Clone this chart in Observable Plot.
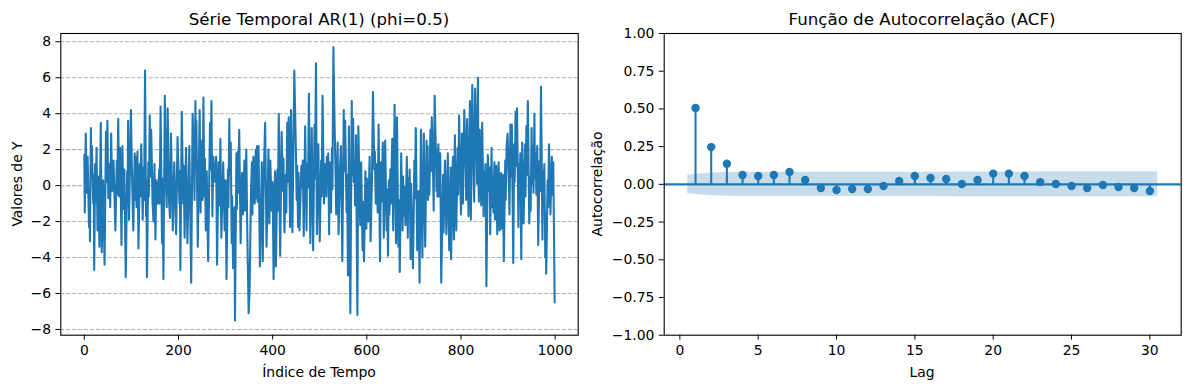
<!DOCTYPE html>
<html><head><meta charset="utf-8">
<script src="https://cdn.jsdelivr.net/npm/d3@7"></script>
<script src="https://cdn.jsdelivr.net/npm/@observablehq/plot@0.6"></script>
<style>
body{margin:0;background:#fff;}
#fig{position:relative;width:1189px;height:390px;overflow:hidden;background:#fff;}
#fig > div, #fig > svg{position:absolute;top:0;}
</style></head><body><div id="fig"></div>
<script>
// ---- Data: AR(1) series (index, value) ----
const tsPoints = [
[0,1.7],[1,-1.5],[3,2.9],[5,-0.4],[7,1.6],[10,-2.3],[11,-0.8],[12,-3.1],[14,3.2],[15,0.4],[16,2.2],[19,-1.0],[20,0.6],[21,-4.7],[23,1.2],[24,-0.9],[26,2.1],[28,-2.5],[30,0.5],[32,-3.4],[35,3.5],[37,-3.7],[40,0.3],[43,-4.4],[46,3.0],[47,0.2],[49,3.6],[51,-0.7],[53,1.2],[55,-1.2],[57,2.9],[59,-0.3],[62,1.4],[66,-2.5],[69,1.4],[70,-0.5],[72,3.7],[74,-0.6],[76,2.1],[79,-3.3],[81,2.2],[83,-1.3],[85,0.9],[88,-5.1],[91,0.8],[92,-0.9],[93,3.6],[95,-1.9],[99,4.2],[101,0.9],[104,-2.5],[107,1.8],[108,-0.8],[110,1.6],[111,-1.2],[113,1.9],[115,-3.5],[118,1.2],[119,-0.6],[121,2.3],[124,-1.9],[126,1.0],[127,-0.8],[129,6.4],[131,-1.7],[132,0.3],[133,-5.1],[136,1.3],[137,-0.6],[139,3.9],[140,0.5],[142,3.1],[145,-1.0],[147,-2.0],[149,1.2],[151,-3.0],[153,0.3],[156,-1.0],[159,0.9],[160,-1.0],[162,4.4],[165,-3.2],[166,0.4],[168,-5.2],[171,5.0],[173,0.9],[175,-1.2],[177,4.3],[180,-0.9],[182,-1.8],[184,2.9],[188,-2.5],[191,1.3],[195,-2.7],[198,2.7],[202,-1.0],[203,0.8],[204,-4.7],[207,4.1],[210,-1.0],[211,1.1],[213,-2.9],[216,2.1],[219,-3.2],[223,2.2],[227,-5.4],[230,4.0],[233,1.2],[234,-0.8],[236,4.7],[237,1.5],[238,3.6],[241,-3.4],[245,4.2],[247,-1.5],[248,2.5],[250,0.9],[251,-0.8],[253,4.9],[255,-0.6],[256,1.5],
[258,-2.5],[260,0.8],[263,-4.2],[267,3.5],[268,0.9],[270,4.7],[272,-1.7],[274,1.6],[276,0.7],[278,0.2],[280,1.6],[282,-4.4],[285,1.3],[287,-1.1],[289,2.6],[291,-2.9],[295,1.3],[298,-2.5],[300,0.3],[302,-5.2],[305,0.9],[306,-1.2],[308,3.7],[309,0.6],[311,2.4],[313,-3.2],[314,-0.6],[316,-4.6],[319,-1.2],[320,-7.5],[323,1.8],[324,-1.3],[326,1.9],[327,-0.4],[329,3.1],[332,-3.2],[335,0.7],[337,-1.6],[340,1.4],[341,-1.4],[343,0.3],[344,2.0],[346,-2.3],[349,-7.1],[351,-5.8],[354,-0.4],[356,1.3],[357,-1.6],[359,1.6],[362,-1.0],[364,2.0],[365,-0.7],[367,2.2],[368,-0.9],[370,2.2],[373,-4.5],[376,-0.4],[377,1.3],[379,-4.2],[381,0.3],[384,3.5],[387,-3.4],[390,0.3],[391,2.0],[393,-2.1],[395,1.4],[398,-1.4],[400,0.2],[402,-5.2],[405,0.8],[407,-4.5],[410,0.9],[411,-1.4],[413,4.0],[416,-3.9],[419,3.0],[422,-0.3],[423,1.5],[425,-2.6],[428,0.6],[429,-1.5],[431,3.5],[432,0.2],[434,3.8],[437,-2.3],[439,4.2],[442,-2.6],[446,6.4],[449,2.5],[451,-0.8],[452,1.1],[454,-2.3],[455,0.7],[457,-2.5],[461,1.1],[463,-0.1],[464,1.4],[466,-2.8],[469,3.3],[472,-2.5],[473,1.2],[475,-0.1],[477,5.1],[480,-3.2],[483,3.2],[486,-3.6],[489,3.4],[490,0.4],[492,6.8],
[494,-2.7],[497,2.3],[500,-3.1],[503,1.4],[504,-0.6],[506,5.0],[509,-1.0],[511,1.2],[514,-0.6],[515,1.6],[517,0.2],[518,1.8],[520,-2.7],[521,1.3],[523,0.0],[524,-1.5],[526,2.1],[527,-0.2],[529,7.7],[531,4.2],[534,0.1],[535,-1.6],[537,0.9],[538,2.4],[540,-2.7],[543,0.9],[545,2.2],[548,-4.2],[551,4.2],[552,0.8],[554,3.6],[557,-1.5],[558,0.6],[560,-5.0],[562,3.3],[565,-7.1],[568,4.7],[569,0.6],[571,3.7],[572,0.2],[574,1.0],[575,-1.1],[577,2.8],[580,-7.2],[582,3.3],[585,-1.0],[586,-2.2],[588,1.3],[591,-3.6],[592,-0.9],[594,-4.2],[596,-1.0],[597,0.8],[599,-2.4],[600,0.4],[602,-1.0],[603,-2.0],[605,0.5],[606,1.6],[608,-3.1],[611,0.4],[613,5.2],[616,0.9],[617,1.9],[619,-1.0],[620,1.2],[622,0.1],[623,-1.5],[625,3.4],[628,-4.2],[630,1.3],[631,-0.9],[633,1.2],[634,2.4],[636,-2.9],[639,2.5],[642,-2.5],[643,-0.2],[645,-3.9],[647,0.3],[648,-1.6],[650,0.9],[651,-1.0],[653,1.4],[654,2.6],[656,-2.5],[659,4.5],[662,-3.2],[664,3.8],[667,-3.4],[668,-0.8],[670,-4.8],[673,1.8],[676,-2.5],[677,0.5],[679,-1.7],[681,-0.1],[682,-2.2],[684,0.3],[685,1.6],[687,-2.9],[688,0.4],[690,-1.1],[691,0.9],[693,-4.1],[694,0.1],[696,-2.1],[698,-4.6],[701,1.4],[702,-0.7],[704,3.2],[707,-3.6],[710,-0.3],[712,-5.4],[715,3.1],[718,-4.0],[721,2.9],[724,-3.4],[727,2.5],[728,0.3],[729,2.2],[730,-0.8],[732,1.2],[733,-0.5],[735,3.1],[736,0.8],[738,3.8],[741,0.3],[742,-1.4],[744,5.0],[747,1.6],[748,-0.3],[749,2.0],[750,-0.6],[752,2.3],[753,-0.6],[755,0.7],[756,1.8],[758,-5.4],
[761,-1.0],[762,0.6],[763,-2.6],[766,1.4],[769,-2.7],[772,1.8],[775,-3.6],[778,1.0],[779,-4.1],[782,0.7],[783,1.6],[785,-3.0],[787,2.8],[790,-2.5],[793,2.1],[794,-0.5],[796,3.9],[799,-0.3],[800,-1.6],[802,2.9],[804,-1.0],[807,4.2],[810,0.9],[811,-0.8],[813,3.7],[816,-1.7],[819,4.7],[821,-1.9],[824,5.6],[827,0.3],[828,-0.9],[830,5.4],[833,1.8],[834,0.1],[836,6.0],[837,0.9],[838,-0.9],[840,3.1],[843,-1.1],[845,3.5],[848,-1.7],[849,0.8],[851,-0.1],[852,1.2],[854,-5.6],[857,1.7],[860,-0.3],[861,1.0],[862,-2.7],[865,2.1],[866,-1.2],[868,0.5],[869,-1.5],[871,1.3],[872,-1.9],[874,-0.4],[875,1.1],[877,-2.7],[879,-0.1],[880,1.3],[882,-2.5],[885,0.7],[886,-2.4],[888,-1.7],[889,0.6],[891,-4.2],[894,1.4],[895,-0.8],[897,2.2],[899,2.9],[902,-0.2],[903,-1.6],[905,3.4],[906,0.5],[908,3.4],[911,-4.3],[913,2.3],[914,0.2],[916,4.1],[917,1.1],[919,4.3],[922,-2.3],[923,1.2],[925,0.3],[926,1.8],[928,-4.1],[930,2.4],[933,-2.1],[936,2.3],[937,-0.6],[939,3.3],[940,0.6],[942,4.7],[945,-2.1],[947,0.5],[948,-1.4],[950,3.2],[951,0.1],[953,2.2],[954,-0.4],[956,4.0],[957,0.4],[959,1.8],[960,-0.5],[962,2.2],[964,-3.3],[967,1.4],[968,-0.3],[970,5.5],[973,-3.0],[974,0.8],[976,-0.4],[977,1.2],[979,-4.0],[980,-1.5],[981,-4.9],[984,0.3],[985,-1.2],[987,2.3],[990,-1.6],[993,1.6],[994,-0.5],[996,1.3],[999,-6.5]
];

// ---- Data: ACF ----
const acfLags = [1,2,3,4,5,6,7,8,9,10,11,12,13,14,15,16,17,18,19,20,21,22,23,24,25,26,27,28,29,30];
const acfValues = [0.506,0.247,0.137,0.062,0.055,0.062,0.082,0.029,-0.024,-0.038,-0.031,-0.031,-0.011,0.022,0.055,0.042,0.035,0.002,0.029,0.071,0.071,0.055,0.015,0.002,-0.011,-0.024,-0.004,-0.018,-0.024,-0.044];
const bandLags = [0.5,2,3,4,5,6,7,8,9,10,11,12,13,14,15,16,17,18,19,20,21,22,23,24,25,26,27,28,29,30.5];
const bandHalfWidth = [0.062,0.076,0.079,0.080,0.080,0.080,0.081,0.081,0.081,0.081,0.081,0.081,0.081,0.081,0.081,0.081,0.082,0.082,0.082,0.082,0.082,0.082,0.083,0.083,0.083,0.083,0.083,0.083,0.083,0.083];

// ---- Tick labels & text ----
const leftXTicks = [0,200,400,600,800,1000];
const leftYTicks = [-8,-6,-4,-2,0,2,4,6,8];
const rightXTicks = [0,5,10,15,20,25,30];
const rightYTicks = [-1,-0.75,-0.5,-0.25,0,0.25,0.5,0.75,1];
const leftTitle = "Série Temporal AR(1) (phi=0.5)";
const rightTitle = "Função de Autocorrelação (ACF)";
const leftXLabel = "Índice de Tempo";
const leftYLabel = "Valores de Y";
const rightXLabel = "Lag";
const rightYLabel = "Autocorrelação";

const C0 = "#1f77b4";
const baseStyle = {fontFamily:"DejaVu Sans", fontSize:"13.9px", color:"#000", background:"transparent", overflow:"visible"};

const ts = tsPoints.map(([t, v]) => ({t, v}));
const acf = acfLags.map((lag, i) => ({lag, v: acfValues[i]}));
const band = bandLags.map((lag, i) => ({lag, w: bandHalfWidth[i]}));

const left = Plot.plot({
  width: 600, height: 390,
  marginLeft: 60.3, marginRight: 22.3, marginTop: 33, marginBottom: 55.3,
  style: baseStyle,
  x: {domain: [-49.95, 1048.95]},
  y: {domain: [-8.32, 8.46]},
  marks: [
    Plot.ruleY(leftYTicks, {stroke: "#b0b0b0", strokeWidth: 1.1, strokeDasharray: "4.1,1.8"}),
    Plot.line(ts, {x: "t", y: "v", stroke: C0, strokeWidth: 2.08}),
    Plot.frame({stroke: "#000", strokeWidth: 1.1}),
    Plot.axisX({ticks: leftXTicks, tickSize: 4.9, tickPadding: 4.9, label: null, tickFormat: d3.format("d")}),
    Plot.axisY({ticks: leftYTicks, tickSize: 4.9, tickPadding: 4.9, label: null, tickFormat: d3.format("d")})
  ]
});

const right = Plot.plot({
  width: 589, height: 390,
  marginLeft: 63.7, marginRight: 8.3, marginTop: 33, marginBottom: 55.3,
  style: baseStyle,
  x: {domain: [-1, 32]},
  y: {domain: [-1, 1]},
  marks: [
    Plot.area(band, {x1: "lag", y1: d => -d.w, y2: d => d.w, fill: C0, fillOpacity: 0.25}),
    Plot.ruleX(acf, {x: "lag", y1: 0, y2: "v", stroke: C0, strokeWidth: 2.08}),
    Plot.ruleY([0], {stroke: C0, strokeWidth: 2.08}),
    Plot.dot(acf, {x: "lag", y: "v", r: 4.2, fill: C0, stroke: null}),
    Plot.frame({stroke: "#000", strokeWidth: 1.1}),
    Plot.axisX({ticks: rightXTicks, tickSize: 4.9, tickPadding: 4.9, label: null, tickFormat: d3.format("d")}),
    Plot.axisY({ticks: rightYTicks, tickSize: 4.9, tickPadding: 4.9, label: null, tickFormat: d3.format(".2f")})
  ]
});

const fig = document.getElementById("fig");
left.style.left = "0px"; left.style.position = "absolute"; left.style.top = "0px";
right.style.left = "600px"; right.style.position = "absolute"; right.style.top = "0px";
fig.appendChild(left);
fig.appendChild(right);

// Text overlay (titles and axis labels)
const svg = d3.select(fig).append("svg")
  .attr("width", 1189).attr("height", 390)
  .style("left", "0px").style("position", "absolute").style("pointer-events", "none")
  .style("font-family", "DejaVu Sans").attr("fill", "#000");
const texts = [
  {s: leftTitle, x: 319, y: 24.5, size: 16.67, rot: false},
  {s: rightTitle, x: 922, y: 24.5, size: 16.67, rot: false},
  {s: leftXLabel, x: 319, y: 377, size: 13.9, rot: false},
  {s: rightXLabel, x: 922, y: 377, size: 13.9, rot: false},
  {s: leftYLabel, x: 22, y: 184, size: 13.9, rot: true},
  {s: rightYLabel, x: 602, y: 184, size: 13.9, rot: true}
];
for (const t of texts) {
  svg.append("text")
    .attr("text-anchor", "middle")
    .attr("font-size", t.size + "px")
    .attr("transform", t.rot ? `translate(${t.x},${t.y}) rotate(-90)` : `translate(${t.x},${t.y})`)
    .text(t.s);
}
</script></body></html>
